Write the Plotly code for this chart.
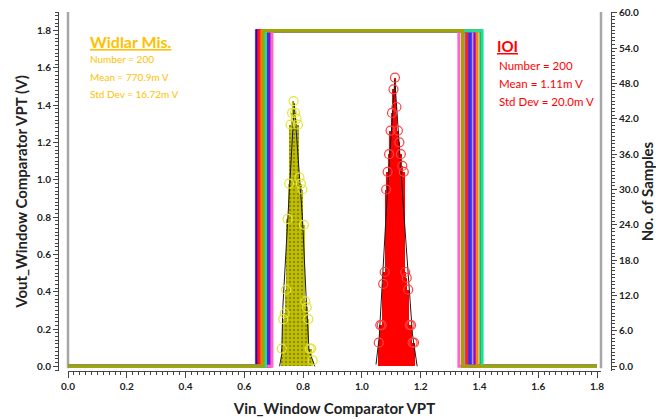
import plotly.graph_objects as go

# ---------------- data ----------------
VDD = 1.8
VIN_START = 0.0
VIN_STOP = 1.8

# Monte Carlo transfer curves (window comparator): low / high thresholds and colours
mc_colors = ["#8080ff", "#0000ff", "#ff0000", "#ff2020", "#00a651", "#9a9a9a",
             "#3030ff", "#9900cc", "#ff66cc", "#ff8000", "#20e090", "#a3a300"]
mc_low = [0.641, 0.643, 0.648, 0.653, 0.676, 0.670, 0.681, 0.687, 0.694, 0.660, 0.672, 0.664]
mc_high = [1.372, 1.367, 1.354, 1.358, 1.405, 1.347, 1.368, 1.384, 1.330, 1.392, 1.409, 1.342]

# Histogram "Widlar Mis." (bin centres, counts)
w_bins = [0.7275, 0.7325, 0.7375, 0.7425, 0.7475, 0.7525, 0.7575, 0.7625, 0.7675, 0.7725,
          0.7775, 0.7825, 0.7875, 0.7925, 0.7975, 0.8025, 0.8075, 0.8125, 0.8175, 0.8225,
          0.8275, 0.8325]
w_counts = [3, 8, 9, 13, 25, 31, 41, 43, 45, 43, 42, 41, 32, 31, 30, 24, 11, 10, 8, 3, 3, 1]
w_fit_x = [0.720, 0.727, 0.731, 0.750, 0.770, 0.785, 0.798, 0.810, 0.820, 0.840]
w_fit_y = [0.0, 2.0, 10.0, 28.0, 44.6, 34.0, 25.0, 12.0, 2.7, 0.0]

# Histogram "IOI"
r_bins = [1.0575, 1.0625, 1.0675, 1.0725, 1.0775, 1.0825, 1.0875, 1.0925, 1.0975, 1.1025,
          1.1075, 1.1125, 1.1175, 1.1225, 1.1275, 1.1325, 1.1375, 1.1425, 1.1475, 1.1525,
          1.1575, 1.1625, 1.1675, 1.1725, 1.1775]
r_counts = [4, 7, 7, 14, 16, 30, 33, 36, 40, 43, 47, 49, 44, 40, 38, 36, 34, 33, 16, 15,
            13, 7, 7, 4, 4]
r_fit_x = [1.048, 1.059, 1.085, 1.112, 1.140, 1.172, 1.188]
r_fit_y = [0.3, 5.0, 28.0, 48.6, 28.0, 5.5, 0.0]

x_ticks = [0.0, 0.2, 0.4, 0.6, 0.8, 1.0, 1.2, 1.4, 1.6, 1.8]
y_ticks = [0.0, 0.2, 0.4, 0.6, 0.8, 1.0, 1.2, 1.4, 1.6, 1.8]
y2_ticks = [0.0, 6.0, 12.0, 18.0, 24.0, 30.0, 36.0, 42.0, 48.0, 54.0, 60.0]

X_TITLE = "Vin_Window Comparator VPT"
Y_TITLE = "Vout_Window Comparator VPT (V)"
Y2_TITLE = "No. of Samples"
W_TEXT = ["<b><u>Widlar Mis.</u></b>", "Number = 200", "Mean = 770.9m V", "Std Dev = 16.72m V"]
R_TEXT = ["<b><u>IOI</u></b>", "Number = 200", "Mean = 1.11m V", "Std Dev = 20.0m V"]

FONT = "Lato"
GOLD = "#FFC000"

fig = go.Figure()

# step curves
for c, lo, hi in zip(mc_colors, mc_low, mc_high):
    fig.add_trace(go.Scatter(
        x=[VIN_START, lo, lo, hi, hi, VIN_STOP],
        y=[0, 0, VDD, VDD, 0, 0],
        mode="lines", line=dict(color=c, width=3), yaxis="y", hoverinfo="skip"))

# yellow histogram
fig.add_trace(go.Bar(x=w_bins, y=w_counts, width=0.005, yaxis="y2",
                     marker=dict(color="#c2c000", line=dict(width=0),
                                 pattern=dict(shape=".", fgcolor="#5c5a00", size=4, solidity=0.35))))
fig.add_trace(go.Scatter(x=w_fit_x, y=w_fit_y, yaxis="y2", mode="lines",
                         line=dict(color="#1a1a1a", width=1)))
fig.add_trace(go.Scatter(x=w_bins, y=w_counts, yaxis="y2", mode="markers",
                         marker=dict(symbol="circle-open", size=9, color="#e4e43a",
                                     line=dict(width=1.2))))

# red histogram
fig.add_trace(go.Bar(x=r_bins, y=r_counts, width=0.005, yaxis="y2",
                     marker=dict(color="#ff0000", line=dict(width=0))))
fig.add_trace(go.Scatter(x=r_fit_x, y=r_fit_y, yaxis="y2", mode="lines",
                         line=dict(color="#1a1a1a", width=1)))
fig.add_trace(go.Scatter(x=r_bins, y=r_counts, yaxis="y2", mode="markers",
                         marker=dict(symbol="circle-open", size=9, color="#ff4040",
                                     line=dict(width=1.2))))

tickfont = dict(family=FONT, size=10, color="#222222", weight="bold")
titlefont = dict(family=FONT, size=15, color="#222222", weight="bold")

fig.update_layout(
    width=656, height=419,
    margin=dict(l=58, r=45, t=12, b=48, autoexpand=False),
    paper_bgcolor="white", plot_bgcolor="white",
    showlegend=False, bargap=0, barmode="overlay",
    xaxis=dict(domain=[10 / 553, 543 / 553], range=[0, 1.8136], tickvals=x_ticks,
               tickformat=".1f", ticks="outside", ticklen=6, tickcolor="#444",
               showline=True, linecolor="#444", linewidth=1, showgrid=False, zeroline=False,
               tickfont=tickfont, automargin=False,
               title=dict(text=X_TITLE, font=titlefont, standoff=12),
               minor=dict(dtick=0.02, ticks="outside", ticklen=3, tickcolor="#444")),
    yaxis=dict(anchor="free", position=0, range=[-0.025, 1.90], tickvals=y_ticks,
               tickformat=".1f", ticks="outside", ticklen=5, tickcolor="#444",
               showline=True, linecolor="#444", linewidth=1, showgrid=False, zeroline=False,
               tickfont=tickfont, automargin=False,
               title=dict(text=Y_TITLE, font=titlefont, standoff=4),
               minor=dict(dtick=0.02, ticks="outside", ticklen=3, tickcolor="#444")),
    yaxis2=dict(overlaying="y", side="right", anchor="free", position=1,
                range=[-0.8, 60.12], tickvals=y2_ticks, tickformat=".1f",
                ticks="outside", ticklen=5, tickcolor="#444",
                showline=True, linecolor="#444", linewidth=1, showgrid=False, zeroline=False,
                tickfont=tickfont, automargin=False,
                title=dict(text=Y2_TITLE, font=titlefont, standoff=9),
                minor=dict(dtick=0.6, ticks="outside", ticklen=3, tickcolor="#444")),
)

# grey frame lines
for xd in (0, 1):
    fig.add_shape(type="line", xref="x domain", x0=xd, x1=xd, yref="paper", y0=0.008, y1=1,
                  line=dict(color="#a6a6a6", width=2.5), layer="below")

# stat boxes
w_y = [42, 59, 77, 94]
w_size = [16, 10, 10, 10]
for t, yy, s in zip(W_TEXT, w_y, w_size):
    fig.add_annotation(xref="paper", yref="paper", x=(88 - 58) / 553, y=(371 - yy) / 359,
                       text=t, showarrow=False, xanchor="left", yanchor="middle",
                       font=dict(family=FONT, size=s, color=GOLD))
r_y = [46, 66, 84, 101]
r_size = [15, 11.5, 11.5, 11.5]
r_x = [495, 497, 497, 497]
for t, yy, s, xx in zip(R_TEXT, r_y, r_size, r_x):
    fig.add_annotation(xref="paper", yref="paper", x=(xx - 58) / 553, y=(371 - yy) / 359,
                       text=t, showarrow=False, xanchor="left", yanchor="middle",
                       font=dict(family=FONT, size=s, color="#ff0000"))

fig.write_html("out.html", config={"displayModeBar": False},
               post_script="document.body.style.margin='0';")
